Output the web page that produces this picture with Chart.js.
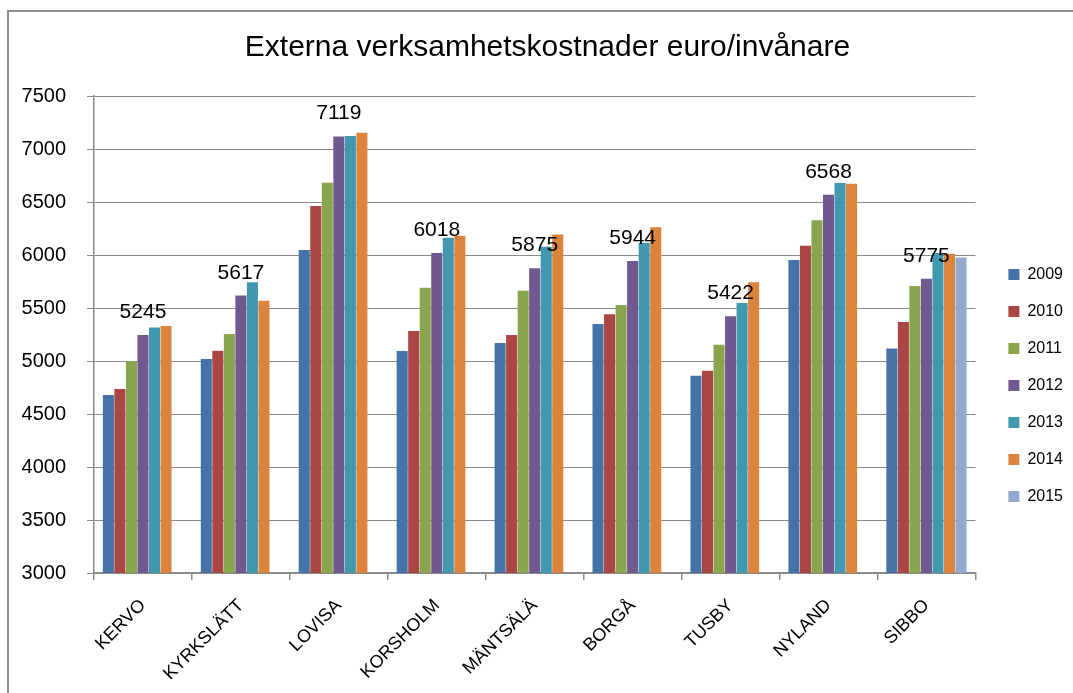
<!DOCTYPE html>
<html>
<head>
<meta charset="utf-8">
<script src="https://cdn.jsdelivr.net/npm/chart.js@4.4.1/dist/chart.umd.min.js"></script>
<style>
  html, body { margin: 0; padding: 0; background: #ffffff; overflow: hidden; }
  #wrap { width: 1073px; height: 693px; position: relative; }
</style>
</head>
<body>
<div id="wrap"><canvas id="c" width="1073" height="693"></canvas></div>
<script>
const categories = ['KERVO', 'KYRKSLÄTT', 'LOVISA', 'KORSHOLM', 'MÄNTSÄLÄ', 'BORGÅ', 'TUSBY', 'NYLAND', 'SIBBO'];
const years = ['2009', '2010', '2011', '2012', '2013', '2014', '2015'];
const v2009 = [4680, 5019, 6047, 5094, 5170, 5349, 4861, 5953, 5119];
const v2010 = [4736, 5097, 6462, 5283, 5245, 5440, 4909, 6088, 5368];
const v2011 = [5000, 5255, 6682, 5692, 5663, 5528, 5154, 6327, 5708];
const v2012 = [5245, 5617, 7119, 6018, 5875, 5944, 5422, 6568, 5775];
const v2013 = [5317, 5742, 7123, 6163, 6078, 6116, 5547, 6679, 6019];
const v2014 = [5330, 5569, 7154, 6182, 6194, 6261, 5742, 6673, 6012];
const v2015 = [null, null, null, null, null, null, null, null, 5977];
const yTicks = [3000, 3500, 4000, 4500, 5000, 5500, 6000, 6500, 7000, 7500];
const titleText = 'Externa verksamhetskostnader euro/invånare';
const labelledSeries = 3; // 2012 values are shown as labels

const colors = ['#4572A7', '#AA4643', '#89A54E', '#71588F', '#4198AF', '#DB843D', '#93A9CF'];
const seriesValues = [v2009, v2010, v2011, v2012, v2013, v2014, v2015];
const FONT = '"Liberation Sans", Arial, sans-serif';

const datasets = seriesValues.map((vals, i) => ({
  label: years[i],
  data: vals,
  backgroundColor: colors[i],
  borderWidth: 0,
  categoryPercentage: 0.824,
  barPercentage: 0.96
}));

const framePlugin = {
  id: 'frame',
  beforeDraw(chart) {
    const ctx = chart.ctx;
    ctx.save();
    ctx.fillStyle = '#ffffff';
    ctx.fillRect(0, 0, chart.width, chart.height);
    ctx.strokeStyle = '#8e8e8e';
    ctx.lineWidth = 2;
    ctx.beginPath();
    ctx.moveTo(8, chart.height + 5);
    ctx.lineTo(8, 11);
    ctx.lineTo(chart.width + 5, 11);
    ctx.stroke();
    ctx.restore();
  }
};

const valueLabelPlugin = {
  id: 'valueLabels',
  afterDatasetsDraw(chart) {
    const ctx = chart.ctx;
    const meta = chart.getDatasetMeta(labelledSeries);
    const data = chart.data.datasets[labelledSeries].data;
    ctx.save();
    ctx.font = '21px ' + FONT;
    ctx.fillStyle = '#000000';
    ctx.textAlign = 'center';
    ctx.textBaseline = 'alphabetic';
    meta.data.forEach((el, i) => {
      if (data[i] == null) return;
      ctx.fillText(String(data[i]), el.x, el.y - 17);
    });
    ctx.restore();
  }
};

new Chart(document.getElementById('c'), {
  type: 'bar',
  data: { labels: categories, datasets },
  plugins: [framePlugin, valueLabelPlugin],
  options: {
    responsive: false,
    animation: false,
    devicePixelRatio: 1,
    layout: { padding: { left: 22, right: 0, top: 0, bottom: 0 } },
    plugins: {
      title: {
        display: true,
        text: titleText,
        color: '#000000',
        font: { family: FONT, size: 30, weight: 'normal', lineHeight: 1.2 },
        padding: { top: 30, bottom: 30 }
      },
      legend: {
        display: true,
        position: 'right',
        align: 'center',
        title: { display: true, text: ' ', font: { size: 10, lineHeight: 1 }, padding: { top: 68, bottom: 0 } },
        labels: {
          boxWidth: 11,
          boxHeight: 11,
          padding: 21,
          color: '#000000',
          font: { family: FONT, size: 16 }
        }
      },
      tooltip: { enabled: false }
    },
    scales: {
      x: {
        grid: { display: true, drawOnChartArea: false, drawTicks: true, tickLength: 7, color: '#8a8a8a', lineWidth: 1.5, offset: true },
        border: { display: true, color: '#8a8a8a', width: 1.5 },
        ticks: {
          color: '#000000',
          font: { family: FONT, size: 18 },
          minRotation: 45,
          maxRotation: 45,
          padding: 15,
          autoSkip: false
        },
        afterFit(scale) {
          scale.paddingLeft = 0;
          scale.paddingRight = 0;
          scale.height = 120;
        }
      },
      y: {
        min: yTicks[0],
        max: yTicks[yTicks.length - 1],
        afterBuildTicks(scale) { scale.ticks = yTicks.map(v => ({ value: v })); },
        grid: { color: '#8a8a8a', lineWidth: 1, tickLength: 7 },
        border: { display: true, color: '#8a8a8a', width: 1.5 },
        ticks: {
          color: '#000000',
          font: { family: FONT, size: 20 },
          padding: 21,
          callback: (v) => String(v)
        },
        afterFit(scale) { scale.width = 72; }
      },
      spacer: {
        type: 'linear',
        position: 'right',
        display: true,
        grid: { display: false, drawTicks: false },
        border: { display: false },
        ticks: { display: false },
        afterFit(scale) { scale.width = 12; }
      }
    }
  }
});
</script>
</body>
</html>
